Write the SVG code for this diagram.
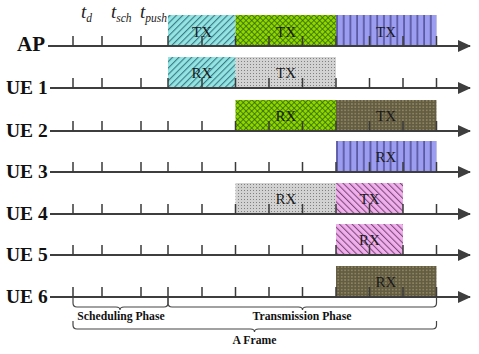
<svg xmlns="http://www.w3.org/2000/svg" width="479" height="354" viewBox="0 0 479 354">
<style>
.axis{stroke:#3e3e3e;stroke-width:2;fill:none}
.tick{stroke:#3a3a3a;stroke-width:1.5}
.lbl{font-family:"Liberation Serif","Times New Roman",serif;font-weight:bold;fill:#111}
.bt{font-family:"Liberation Serif","Times New Roman",serif;font-size:15px;fill:#1a1a1a;text-anchor:middle}
.ph{font-family:"Liberation Serif","Times New Roman",serif;font-weight:bold;font-size:11.7px;fill:#111;text-anchor:middle}
.tl{font-family:"Liberation Serif","Times New Roman",serif;font-style:italic;font-size:19px;fill:#222}
.brace{stroke:#444;stroke-width:1.2;fill:none}
</style>
<defs>
<marker id="arr" viewBox="0 0 13 12" markerWidth="13" markerHeight="12" refX="12" refY="6" markerUnits="userSpaceOnUse" orient="auto">
<path d="M0,0 L13,6 L0,12 z" fill="#3e3e3e"/>
</marker>
<pattern id="pCyan" width="4.5" height="4.5" patternUnits="userSpaceOnUse" patternTransform="rotate(45)">
<rect width="4.5" height="4.5" fill="#94e4e4"/>
<line x1="0.6" y1="0" x2="0.6" y2="4.5" stroke="#2f6f78" stroke-width="1"/>
</pattern>
<pattern id="pPink" width="4.5" height="4.5" patternUnits="userSpaceOnUse" patternTransform="rotate(-45)">
<rect width="4.5" height="4.5" fill="#f0b0ec"/>
<line x1="0.6" y1="0" x2="0.6" y2="4.5" stroke="#6a3468" stroke-width="0.9"/>
</pattern>
<pattern id="pGreen" width="4" height="4" patternUnits="userSpaceOnUse" patternTransform="rotate(45)">
<rect width="4" height="4" fill="#8ed800"/>
<line x1="0" y1="0.4" x2="4" y2="0.4" stroke="#2e5a00" stroke-width="0.8"/>
<line x1="0.4" y1="0" x2="0.4" y2="4" stroke="#2e5a00" stroke-width="0.8"/>
</pattern>
<pattern id="pBlue" width="6.7" height="10" patternUnits="userSpaceOnUse" x="336">
<rect width="6.7" height="10" fill="#9c9cf0"/>
<line x1="1" y1="0" x2="1" y2="10" stroke="#26266a" stroke-width="1"/>
</pattern>
<pattern id="pGray" width="3" height="3" patternUnits="userSpaceOnUse">
<rect width="3" height="3" fill="#d2d2d2"/>
<rect x="1" y="1" width="1" height="1" fill="#808080"/>
</pattern>
<pattern id="pBrown" width="3.4" height="3.2" patternUnits="userSpaceOnUse">
<rect width="3.4" height="3.2" fill="#655d43"/>
<rect x="1.2" y="1.1" width="1" height="1" fill="#cfc78c"/>
</pattern>
</defs>

<g id="boxes">
<g id="ap-tx1"><rect x="168" y="15" width="67.5" height="31" fill="url(#pCyan)"/><text class="bt" x="202" y="37">TX</text></g>
<g id="ap-tx2"><rect x="235.5" y="15" width="100.5" height="31" fill="url(#pGreen)"/><text class="bt" x="286" y="37">TX</text></g>
<g id="ap-tx3"><rect x="336" y="15" width="100.5" height="31" fill="url(#pBlue)"/><text class="bt" x="386" y="37">TX</text></g>
<g id="ue1-rx"><rect x="168" y="57" width="67.5" height="31" fill="url(#pCyan)"/><text class="bt" x="202" y="78">RX</text></g>
<g id="ue1-tx"><rect x="235.5" y="57" width="100.5" height="31" fill="url(#pGray)"/><text class="bt" x="286" y="78">TX</text></g>
<g id="ue2-rx"><rect x="235.5" y="100" width="100.5" height="31" fill="url(#pGreen)"/><text class="bt" x="286" y="121">RX</text></g>
<g id="ue2-tx"><rect x="336" y="100" width="100.5" height="31" fill="url(#pBrown)"/><text class="bt" x="386" y="121">TX</text></g>
<g id="ue3-rx"><rect x="336" y="141" width="100.5" height="31" fill="url(#pBlue)"/><text class="bt" x="386" y="162">RX</text></g>
<g id="ue4-rx"><rect x="235.5" y="183" width="100.5" height="31" fill="url(#pGray)"/><text class="bt" x="286" y="204">RX</text></g>
<g id="ue4-tx"><rect x="336" y="183" width="67" height="31" fill="url(#pPink)"/><text class="bt" x="369.5" y="204">TX</text></g>
<g id="ue5-rx"><rect x="336" y="224" width="67" height="31" fill="url(#pPink)"/><text class="bt" x="369.5" y="245">RX</text></g>
<g id="ue6-rx"><rect x="336" y="266" width="100.5" height="31" fill="url(#pBrown)"/><text class="bt" x="386" y="287">RX</text></g>
</g>

<g id="connectors">
<line class="axis" x1="48" y1="46" x2="470" y2="46" marker-end="url(#arr)"/>
<line class="axis" x1="50" y1="88" x2="470" y2="88" marker-end="url(#arr)"/>
<line class="axis" x1="50" y1="131" x2="470" y2="131" marker-end="url(#arr)"/>
<line class="axis" x1="50" y1="172" x2="470" y2="172" marker-end="url(#arr)"/>
<line class="axis" x1="50" y1="214" x2="470" y2="214" marker-end="url(#arr)"/>
<line class="axis" x1="50" y1="255" x2="470" y2="255" marker-end="url(#arr)"/>
<line class="axis" x1="50" y1="297" x2="470" y2="297" marker-end="url(#arr)"/>
<path class="tick" d="M73,36V46M102,36V46M141,36V46M168,36V46M202,36V46M235.5,36V46M269,36V46M302.5,36V46M336,36V46M369.5,36V46M403,36V46M436.5,36V46"/>
<path class="tick" d="M73,78V88M102,78V88M141,78V88M168,78V88M202,78V88M235.5,78V88M269,78V88M302.5,78V88M336,78V88M369.5,78V88M403,78V88M436.5,78V88"/>
<path class="tick" d="M73,121V131M102,121V131M141,121V131M168,121V131M202,121V131M235.5,121V131M269,121V131M302.5,121V131M336,121V131M369.5,121V131M403,121V131M436.5,121V131"/>
<path class="tick" d="M73,162V172M102,162V172M141,162V172M168,162V172M202,162V172M235.5,162V172M269,162V172M302.5,162V172M336,162V172M369.5,162V172M403,162V172M436.5,162V172"/>
<path class="tick" d="M73,204V214M102,204V214M141,204V214M168,204V214M202,204V214M235.5,204V214M269,204V214M302.5,204V214M336,204V214M369.5,204V214M403,204V214M436.5,204V214"/>
<path class="tick" d="M73,245V255M102,245V255M141,245V255M168,245V255M202,245V255M235.5,245V255M269,245V255M302.5,245V255M336,245V255M369.5,245V255M403,245V255M436.5,245V255"/>
<path class="tick" d="M73,287V297M102,287V297M141,287V297M168,287V297M202,287V297M235.5,287V297M269,287V297M302.5,287V297M336,287V297M369.5,287V297M403,287V297M436.5,287V297"/>
<path class="brace" d="M73,297V303Q73,307 77,307H116Q120,307 120,310Q120,307 124,307H164Q168,307 168,303V297"/>
<path class="brace" d="M168,297V303Q168,307 172,307H298.5Q302.5,307 302.5,310Q302.5,307 306.5,307H432.5Q436.5,307 436.5,303V297"/>
<path class="brace" d="M73,321V325Q73,329 77,329H250.5Q254.5,329 254.5,332Q254.5,329 258.5,329H432.5Q436.5,329 436.5,325V321"/>
</g>

<g id="labels">
<text class="lbl" x="17" y="51" font-size="21">AP</text>
<text class="lbl" x="6" y="94" font-size="19.5">UE 1</text>
<text class="lbl" x="6" y="137" font-size="19.5">UE 2</text>
<text class="lbl" x="6" y="178" font-size="19.5">UE 3</text>
<text class="lbl" x="6" y="220" font-size="19.5">UE 4</text>
<text class="lbl" x="6" y="261" font-size="19.5">UE 5</text>
<text class="lbl" x="6" y="303" font-size="19.5">UE 6</text>
<text class="tl" x="81" y="18">t<tspan dy="4" font-size="11.5">d</tspan></text>
<text class="tl" x="111" y="18">t<tspan dy="4" font-size="11.5">sch</tspan></text>
<text class="tl" x="140" y="18">t<tspan dy="4" font-size="11.5">push</tspan></text>
<text class="ph" x="121" y="320">Scheduling Phase</text>
<text class="ph" x="302" y="320">Transmission Phase</text>
<text class="ph" x="254.5" y="344">A Frame</text>
</g>
</svg>
